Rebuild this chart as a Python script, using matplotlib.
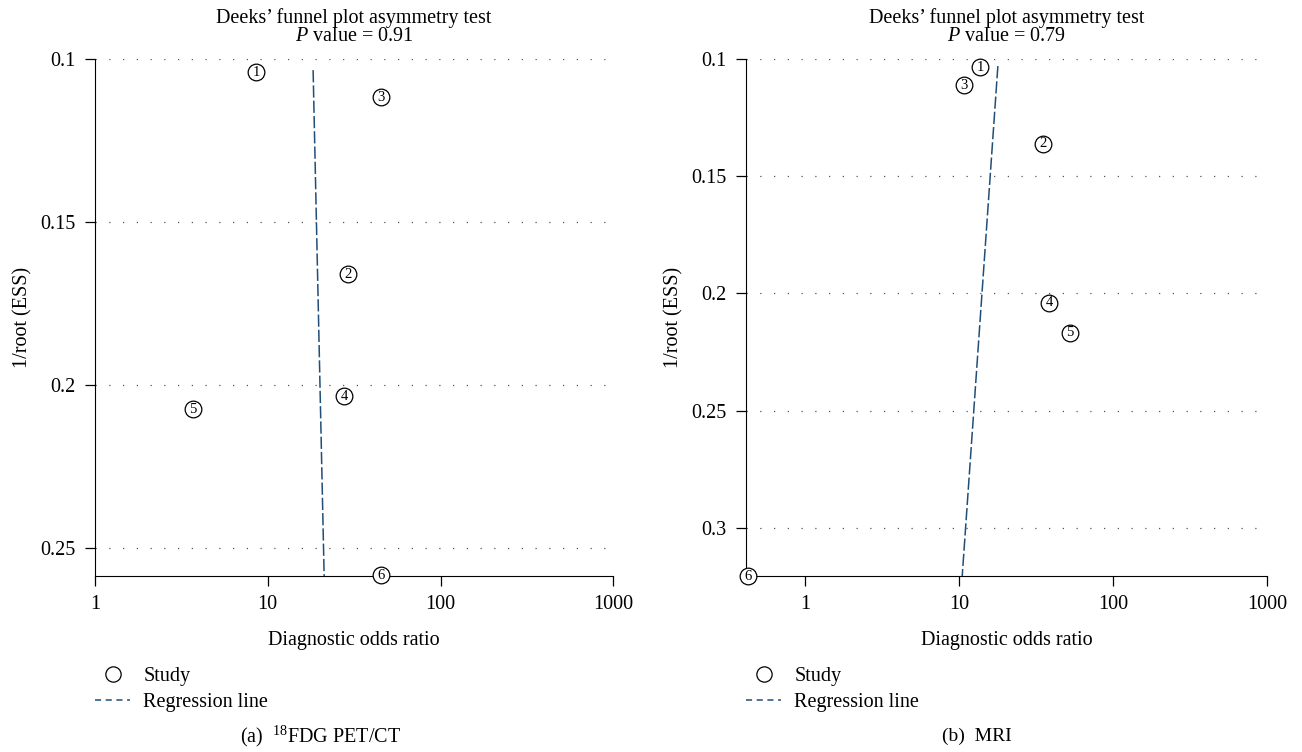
import numpy as np
import matplotlib
matplotlib.use("Agg")
import matplotlib.pyplot as plt
from matplotlib.lines import Line2D

plt.rcParams['font.family'] = ['Liberation Serif', 'DejaVu Serif']
plt.rcParams['mathtext.fontset'] = 'custom'
plt.rcParams['mathtext.rm'] = 'Liberation Serif'
plt.rcParams['mathtext.it'] = 'Liberation Serif:italic'
plt.rcParams['font.size'] = 14.5

# panel (a) 18FDG PET/CT
a_study = ["1", "2", "3", "4", "5", "6"]
a_dor = [8.55, 29.2, 45.3, 27.7, 3.69, 45.3]
a_ess = [0.104, 0.166, 0.1117, 0.2034, 0.2074, 0.2583]
a_reg_dor = [18.3, 21.2]
a_reg_ess = [0.1034, 0.2586]
a_p = "0.91"

# panel (b) MRI
b_study = ["1", "2", "3", "4", "5", "6"]
b_dor = [13.7, 35.1, 10.8, 38.4, 52.6, 0.426]
b_ess = [0.1034, 0.1362, 0.1111, 0.204, 0.2168, 0.3205]
b_reg_dor = [17.9, 10.5]
b_reg_ess = [0.103, 0.3205]
b_p = "0.79"

line_col = "#1f4e79"
fs = 14.5


def draw_panel(ax, study, dor, ess, reg_x, reg_y, pval, xlim, ylim, yticks, yticklabels):
    ax.set_xscale("log")
    ax.set_xlim(*xlim)
    ax.set_ylim(*ylim)
    for t in yticks:
        ax.axhline(t, color="#555555", lw=0.9, ls=(0, (1, 10)), zorder=0)
    ax.plot(reg_x, reg_y, color=line_col, lw=1.1, ls=(0, (8, 2)), zorder=2)
    ax.plot(dor, ess, "o", ms=12, mfc="white", mec="black", mew=0.9,
            clip_on=False, zorder=3)
    for s, x, y in zip(study, dor, ess):
        ax.text(x, y, s, ha="center", va="center", fontsize=10.5, zorder=4, clip_on=False)
    ax.spines["top"].set_visible(False)
    ax.spines["right"].set_visible(False)
    ax.set_xticks([1, 10, 100, 1000])
    ax.set_xticklabels(["1", "10", "100", "1000"])
    ax.xaxis.set_minor_locator(matplotlib.ticker.NullLocator())
    ax.set_yticks(yticks)
    ax.set_yticklabels(yticklabels)
    ax.tick_params(direction="out", length=7, width=0.9, labelsize=fs)
    ax.tick_params(axis="x", pad=7)
    ax.tick_params(axis="y", pad=7)
    ax.set_xlabel("Diagnostic odds ratio", fontsize=fs, labelpad=12)
    ax.set_ylabel("1/root (ESS)", fontsize=fs, labelpad=6)
    ax.set_title("Deeks\u2019 funnel plot asymmetry test\n$P$ value = " + pval,
                 fontsize=fs, pad=13, linespacing=0.95)

    handles = [
        Line2D([], [], marker="o", ls="none", ms=11, mfc="white", mec="black", mew=0.9),
        Line2D([], [], color=line_col, lw=1.1, ls=(0, (4, 3))),
    ]
    ax.legend(handles, ["Study", "Regression line"], loc="upper left",
              bbox_to_anchor=(0, -0.175), frameon=False, fontsize=fs,
              handlelength=1.75, handletextpad=0.65, labelspacing=0.35,
              borderpad=0, borderaxespad=0)


fig = plt.figure(figsize=(13.02, 7.52), dpi=100)
ax1 = fig.add_axes([0.073, 0.234, 0.398, 0.6875])
ax2 = fig.add_axes([0.573, 0.234, 0.400, 0.6875])

draw_panel(ax1, a_study, a_dor, a_ess, a_reg_dor, a_reg_ess, a_p,
           (1, 1000), (0.2586, 0.1), [0.1, 0.15, 0.2, 0.25],
           ["0.1", "0.15", "0.2", "0.25"])
draw_panel(ax2, b_study, b_dor, b_ess, b_reg_dor, b_reg_ess, b_p,
           (0.414, 1000), (0.3205, 0.1), [0.1, 0.15, 0.2, 0.25, 0.3],
           ["0.1", "0.15", "0.2", "0.25", "0.3"])

fig.text(321 / 1302, 1 - 736 / 752, "(a)  $^{18}$FDG PET/CT", ha="center", va="center", fontsize=14.5)
fig.text(977 / 1302, 1 - 736 / 752, "(b)  MRI", ha="center", va="center", fontsize=14)

fig.savefig("out.png", dpi=100)
